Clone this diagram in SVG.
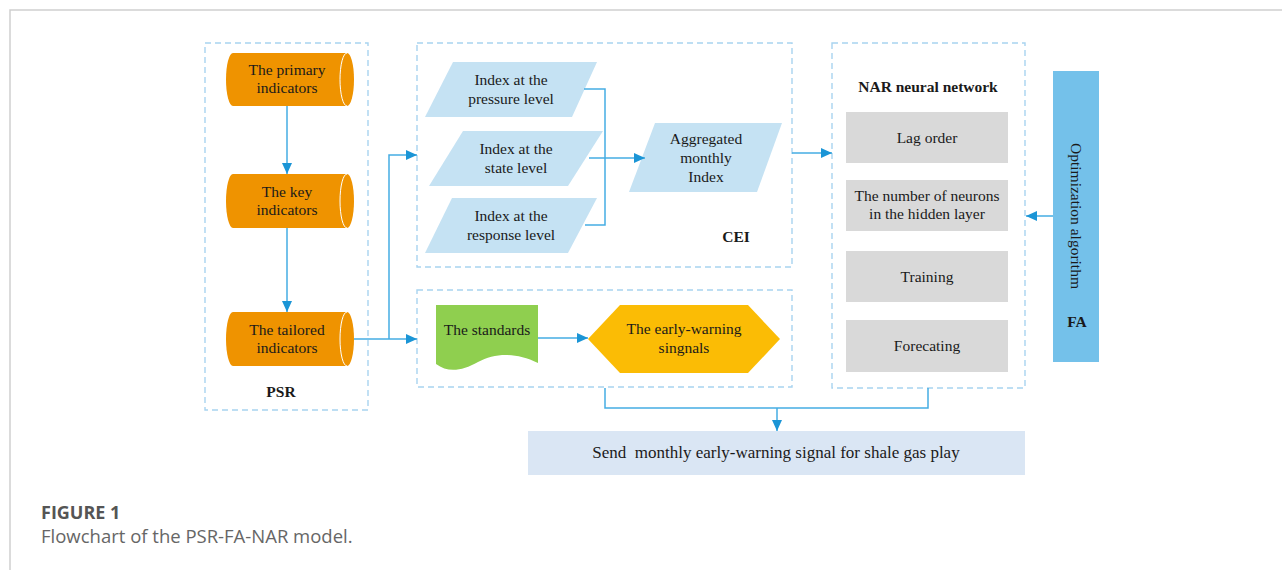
<svg xmlns="http://www.w3.org/2000/svg" width="1282" height="570" viewBox="0 0 1282 570">
<defs>
<style>
.t{font-family:"Liberation Serif","Times New Roman",serif;font-size:15.5px;fill:#1a1a1a;text-anchor:middle}
.b{font-weight:bold}
.big{font-size:17px}
.grp{fill:none;stroke:#a8d3f0;stroke-width:1.4;stroke-dasharray:6 4}
.cyl{fill:#ef9300}
.par{fill:#c5e2f3}
.gry{fill:#d9d9d9}
.ln{fill:none;stroke:#45ade3;stroke-width:1.5}
.cap{font-family:"Open Sans","Noto Sans",sans-serif}
</style>
<marker id="ah" markerWidth="12" markerHeight="10" refX="11" refY="5" orient="auto" markerUnits="userSpaceOnUse">
<path d="M0,0 L11,5 L0,10 Z" fill="#1b95d6"/>
</marker>
</defs>
<rect width="1282" height="570" fill="#fff"/>
<path d="M10,570 V10 H1282" fill="none" stroke="#cfcfcf" stroke-width="1.5"/>

<g id="psr">
<rect class="grp" x="205" y="43" width="163" height="367"/>
<text class="t b" x="281" y="397">PSR</text>
</g>
<g id="primary">
<path class="cyl" d="M233,53 H347 A7,26.5 0 0 1 347,106 H233 A7,26.5 0 0 1 233,53 Z"/>
<path d="M347,53 A7,26.5 0 0 0 347,106" fill="none" stroke="#fff" stroke-width="1"/>
<text class="t" x="287" y="75">The primary</text>
<text class="t" x="287" y="93">indicators</text>
</g>
<g id="key">
<path class="cyl" d="M233,174 H347 A7,27 0 0 1 347,228 H233 A7,27 0 0 1 233,174 Z"/>
<path d="M347,174 A7,27 0 0 0 347,228" fill="none" stroke="#fff" stroke-width="1"/>
<text class="t" x="287" y="197">The key</text>
<text class="t" x="287" y="215">indicators</text>
</g>
<g id="tailored">
<path class="cyl" d="M233,312 H347 A7,27 0 0 1 347,366 H233 A7,27 0 0 1 233,312 Z"/>
<path d="M347,312 A7,27 0 0 0 347,366" fill="none" stroke="#fff" stroke-width="1"/>
<text class="t" x="287" y="335">The tailored</text>
<text class="t" x="287" y="353">indicators</text>
</g>

<g id="cei">
<rect class="grp" x="417" y="43" width="375" height="224"/>
<text class="t b" x="736" y="242">CEI</text>
</g>
<g id="pressure">
<path class="par" d="M453,62 H597 L572,117 H425 Z"/>
<text class="t" x="511" y="85">Index at the</text>
<text class="t" x="511" y="104">pressure level</text>
</g>
<g id="state">
<path class="par" d="M463,131 H603 L568,186 H429 Z"/>
<text class="t" x="516" y="154">Index at the</text>
<text class="t" x="516" y="173">state level</text>
</g>
<g id="response">
<path class="par" d="M452,198 H597 L568,253 H425 Z"/>
<text class="t" x="511" y="221">Index at the</text>
<text class="t" x="511" y="240">response level</text>
</g>
<g id="aggregated">
<path class="par" d="M655,123 H782 L757,192 H629 Z"/>
<text class="t" x="706" y="144">Aggregated</text>
<text class="t" x="706" y="163">monthly</text>
<text class="t" x="706" y="182">Index</text>
</g>

<g id="warnbox">
<rect class="grp" x="417" y="290" width="375" height="97"/>
</g>
<g id="standards">
<path d="M436,305 H538 V363 C515,352 495,353 478,362 C462,371 448,373 436,364 Z" fill="#8fcf4f"/>
<text class="t" x="487" y="335">The standards</text>
</g>
<g id="signals">
<path d="M588,339 L620,305 H748 L780,339 L748,373 H620 Z" fill="#fbbc05"/>
<text class="t" x="684" y="334">The early-warning</text>
<text class="t" x="684" y="353">singnals</text>
</g>

<g id="nar">
<rect class="grp" x="832" y="43" width="193" height="345"/>
<text class="t b" x="928" y="92">NAR neural network</text>
</g>
<g id="lag">
<rect class="gry" x="846" y="112" width="162" height="51"/>
<text class="t" x="927" y="143">Lag order</text>
</g>
<g id="neurons">
<rect class="gry" x="846" y="180" width="162" height="51"/>
<text class="t" x="927" y="201">The number of neurons</text>
<text class="t" x="927" y="219">in the hidden layer</text>
</g>
<g id="training">
<rect class="gry" x="846" y="251" width="162" height="51"/>
<text class="t" x="927" y="282">Training</text>
</g>
<g id="forecasting">
<rect class="gry" x="846" y="320" width="162" height="52"/>
<text class="t" x="927" y="351">Forecating</text>
</g>

<g id="fa">
<rect x="1053" y="71" width="46" height="291" fill="#74c1ea"/>
<text class="t" transform="translate(1071,216) rotate(90)">Optimization algorithm</text>
<text class="t b" x="1077" y="327">FA</text>
</g>

<g id="send">
<rect x="528" y="431" width="497" height="44" fill="#dae6f4"/>
<text class="t big" x="776" y="458" xml:space="preserve">Send  monthly early-warning signal for shale gas play</text>
</g>

<g id="connectors">
<path class="ln" d="M287,106 V174" marker-end="url(#ah)"/>
<path class="ln" d="M287,228 V312" marker-end="url(#ah)"/>
<path class="ln" d="M354,339 H417" marker-end="url(#ah)"/>
<path class="ln" d="M389,339 V155 H417" marker-end="url(#ah)"/>
<path class="ln" d="M584,89 H605 V225 H585"/>
<path class="ln" d="M589,158 H645" marker-end="url(#ah)"/>
<path class="ln" d="M792,153 H832" marker-end="url(#ah)"/>
<path class="ln" d="M538,338 H588" marker-end="url(#ah)"/>
<path class="ln" d="M1053,216 H1026" marker-end="url(#ah)"/>
<path class="ln" d="M605,388 V408 H928 V388"/>
<path class="ln" d="M777,408 V431" marker-end="url(#ah)"/>
</g>

<g id="caption">
<text class="cap" x="41" y="519" font-size="18" font-weight="bold" fill="#555">FIGURE 1</text>
<text class="cap" x="41" y="543" font-size="18.5" fill="#666">Flowchart of the PSR-FA-NAR model.</text>
</g>
</svg>
